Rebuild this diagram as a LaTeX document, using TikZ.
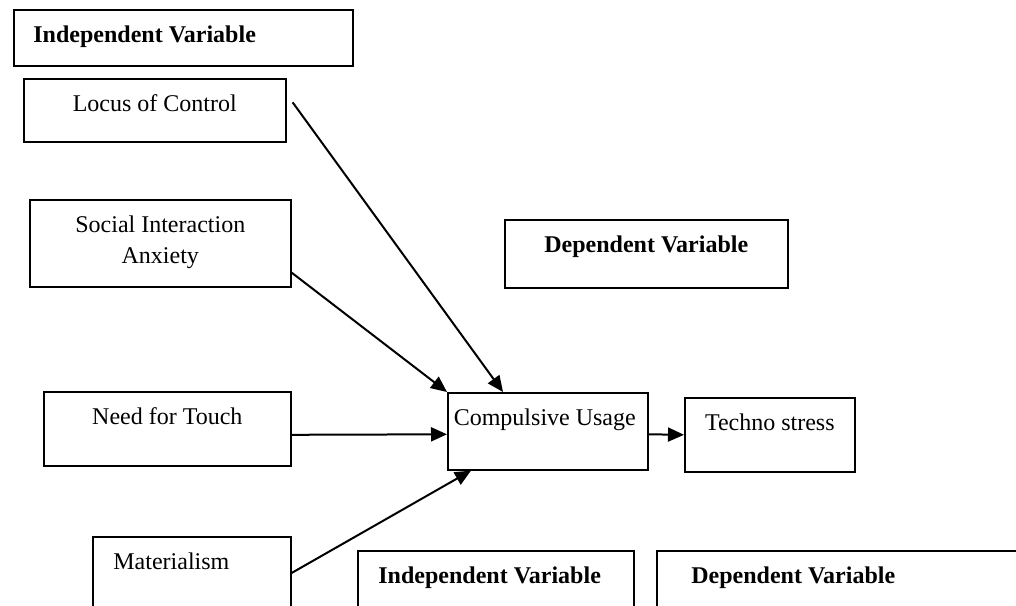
\documentclass[tikz,border=0pt]{standalone}
\usepackage{fontspec}
\setmainfont{Liberation Serif}
\usetikzlibrary{arrows.meta}

\begin{document}
\begin{tikzpicture}[x=0.5pt, y=-0.5pt, font=\fontsize{12}{14}\selectfont,
            box/.style={draw, line width=0.8pt, anchor=north west, inner sep=0pt},
            ctr/.style={anchor=base, inner sep=0pt, yshift=-16.5pt},
            lft/.style={anchor=base west, inner sep=0pt, yshift=-16.5pt},
            arr/.style={-{Triangle[length=8pt, width=7pt]}, line width=1pt}]
            \useasboundingbox (0,0) rectangle (1016,605);
            \clip (0,0) rectangle (1016,605);
            \node[box, minimum width=169.5pt, minimum height=28pt,
                label={[lft, xshift=10pt]north west:\textbf{Independent Variable}}] (ivtop) at (13,9) {};
            \node[box, minimum width=131pt, minimum height=31.5pt,
                label={[ctr]north:Locus of Control}] (loc) at (23,78) {};
            \node[box, minimum width=130.5pt, minimum height=43.5pt,
                label={[anchor=base, inner sep=0pt, yshift=-32pt, align=center,
                    font=\fontsize{12}{15.5}\selectfont]north:Social Interaction\\Anxiety}] (sia) at (29,199) {};
            \node[box, minimum width=123.5pt, minimum height=37pt,
                label={[ctr]north:Need for Touch}] (need) at (43,391) {};
            \node[box, minimum width=99pt, minimum height=40pt,
                label={[lft, xshift=10.5pt]north west:Materialism}] (mat) at (92,536) {};
            \node[box, minimum width=141.5pt, minimum height=34pt,
                label={[ctr]north:\textbf{Dependent Variable}}] (dvtop) at (504,219) {};
            \node[box, minimum width=100pt, minimum height=38.5pt,
                label={[ctr, xshift=-1.5pt]north:Compulsive Usage}] (cu) at (447,392) {};
            \node[box, minimum width=85pt, minimum height=37pt,
                label={[ctr]north:Techno stress}] (ts) at (684,397) {};
            \node[box, minimum width=138pt, minimum height=40pt,
                label={[lft, xshift=10.5pt]north west:\textbf{Independent Variable}}] (ivbot) at (357,550) {};
            \node[box, minimum width=200pt, minimum height=40pt,
                label={[lft, xshift=17.5pt]north west:\textbf{Dependent Variable}}] (dvbot) at (656,550) {};
            \draw[arr] ([shift={(6,-8)}]loc.east) -- ([xshift=28pt]cu.north west);
            \draw[arr] ([yshift=7.5pt]sia.south east) -- (cu.north west);
            \draw[arr] ([yshift=-3pt]need.east) -- ([yshift=-1.5pt]cu.west);
            \draw[arr] ([yshift=-18.5pt]mat.north east) -- ([xshift=12pt]cu.south west);
            \draw[arr] ([yshift=-1.5pt]cu.east) -- (ts.west);
        \end{tikzpicture}
\end{document}
